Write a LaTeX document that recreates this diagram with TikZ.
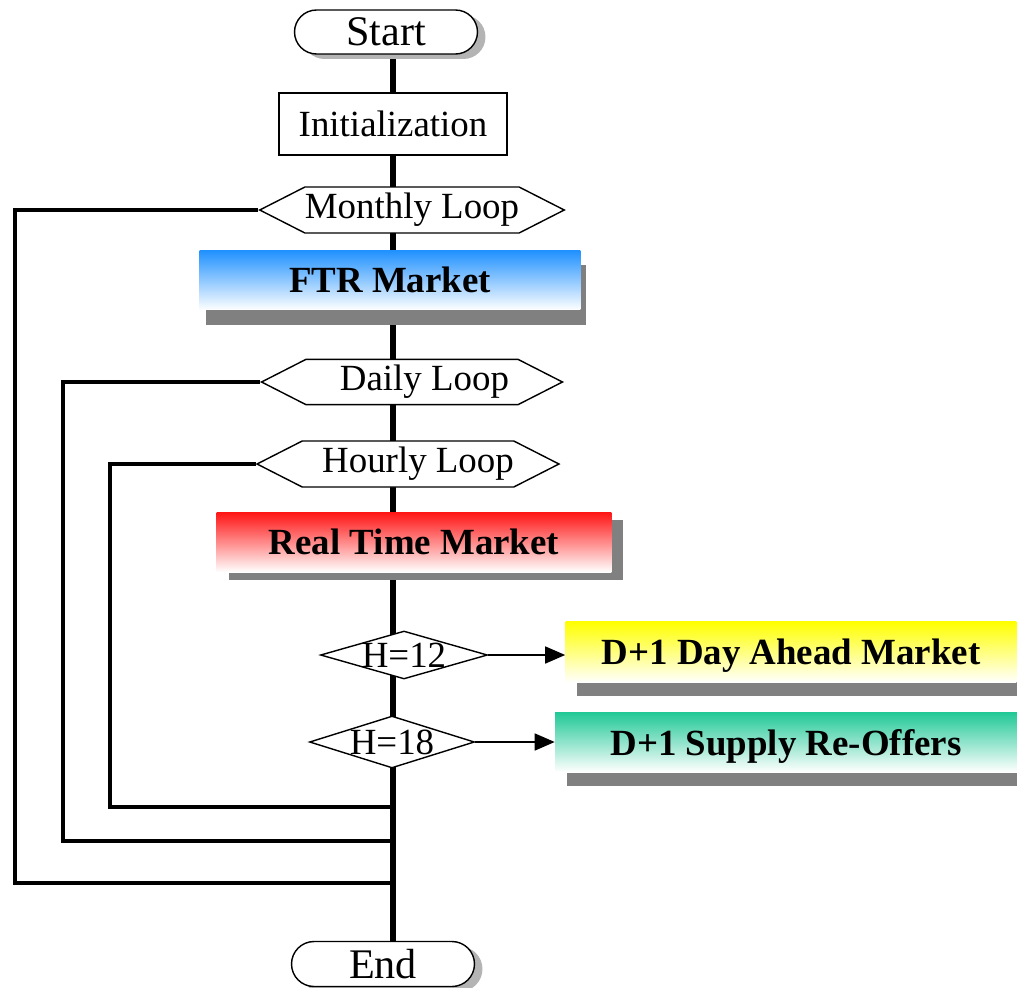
\documentclass[tikz,border=0pt]{standalone}
\usepackage{fontspec}
\setmainfont{Liberation Serif}
\usetikzlibrary{arrows.meta,positioning,shapes.geometric,shapes.misc,shapes.symbols,shadows,backgrounds}

\definecolor{ftrblue}{RGB}{30,144,255}
\definecolor{rtred}{RGB}{255,20,20}
\definecolor{dayellow}{RGB}{255,255,0}
\definecolor{supgreen}{RGB}{32,200,150}
\definecolor{shadowgray}{RGB}{128,128,128}
\definecolor{termshadow}{RGB}{180,180,180}

\tikzset{
  terminal/.style={rounded rectangle, draw, thick, fill=white, minimum width=3.66cm, minimum height=0.88cm, inner sep=0pt,
    font=\fontsize{24}{28}\selectfont, drop shadow={shadow xshift=0.16cm, shadow yshift=-0.1cm, fill=termshadow, opacity=1}},
  process/.style={rectangle, draw, thick, fill=white, minimum width=4.56cm, minimum height=1.24cm, font=\fontsize{21}{25}\selectfont},
  loophead/.style={signal, signal to=west and east, signal pointer angle=54, draw, thick, fill=white,
    minimum width=6.02cm, minimum height=0.92cm, inner xsep=0pt, font=\fontsize{21}{25}\selectfont},
  decision/.style={diamond, draw, thick, fill=white, inner sep=0pt, font=\fontsize{21}{25}\selectfont},
  market/.style n args={3}{rectangle, draw=none, top color=#1, bottom color=white, inner sep=0pt, text depth=0pt,
    font=\fontsize{21}{25}\selectfont\bfseries, drop shadow={shadow xshift=#2, shadow yshift=#3, fill=shadowgray, opacity=1}},
  spine/.style={line width=3.4pt},
  loopline/.style={line width=2.4pt},
  branch/.style={line width=0.9pt, -{Triangle[length=0.4cm,width=0.34cm]}},
}

\begin{document}
\begin{tikzpicture}[x=0.02cm, y=-0.02cm]
  \useasboundingbox (0,0) rectangle (1017,987);

  % Main column
  \node[terminal] (start) at (386,32) {Start};
  \node[process] (init) at (393,124) {Initialization};
  \node[loophead] (monthly) at (412,210) {Monthly Loop};
  \node[market={ftrblue}{0.12cm}{-0.3cm}, minimum width=7.62cm, minimum height=1.2cm] (ftr) at (390,280) {FTR Market};
  \node[loophead, minimum height=0.9cm] (daily) at (412,382) {\hspace*{0.5cm}Daily Loop};
  \node[loophead] (hourly) at (408,464) {\hspace*{0.4cm}Hourly Loop};
  \node[market={rtred}{0.24cm}{-0.16cm}, minimum width=7.9cm, minimum height=1.2cm] (rtm) at (414,542) {Real Time Market};

  % Hour checks
  \node[decision, minimum width=3.34cm, minimum height=0.96cm] (h12) at (404,655) {\makebox[0pt]{H=12}};
  \node[decision, minimum width=3.3cm, minimum height=1.04cm] (h18) at (392,742) {\makebox[0pt]{H=18}};
  \node[market={dayellow}{0.22cm}{-0.26cm}, minimum width=9.02cm, minimum height=1.22cm] (dam) at (791,652) {D+1 Day Ahead Market};
  \node[market={supgreen}{0.24cm}{-0.28cm}, minimum width=9.24cm, minimum height=1.2cm] (reoffer) at (786,742) {D+1 Supply Re-Offers};

  \node[terminal, minimum height=0.9cm] (end) at (383,964) {End};

  % Spine behind everything
  \coordinate (spine) at (393,0);
  \begin{pgfonlayer}{background}
    \draw[spine] (start.center -| spine) -- (end.center -| spine);
  \end{pgfonlayer}

  % Loop returns
  \coordinate (monthly back) at (15,883);
  \coordinate (daily back) at (63,841);
  \coordinate (hourly back) at (110,807);
  \draw[loopline] (monthly.west) -| (monthly back) -- (monthly back -| spine);
  \draw[loopline] (daily.west) -| (daily back) -- (daily back -| spine);
  \draw[loopline] (hourly.west) -| (hourly back) -- (hourly back -| spine);

  % Branches
  \draw[branch] (h12.east) -- (h12.east -| dam.west);
  \draw[branch] (h18.east) -- (h18.east -| reoffer.west);
\end{tikzpicture}
\end{document}
